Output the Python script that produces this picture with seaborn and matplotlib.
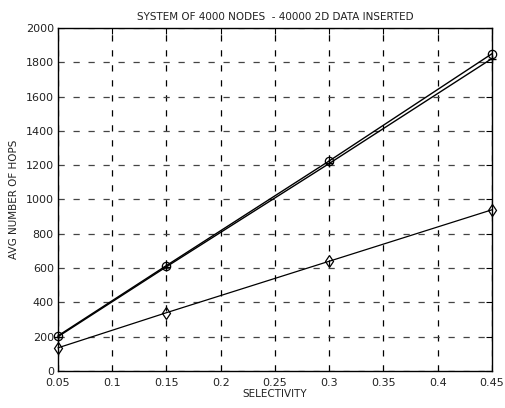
import matplotlib
matplotlib.use("Agg")
import matplotlib.pyplot as plt
import seaborn as sns
import pandas as pd

selectivity = [0.05, 0.15, 0.30, 0.45]
hops_circle = [205, 615, 1225, 1850]
hops_plus = [200, 608, 1210, 1822]
hops_diamond = [135, 340, 640, 940]

x_ticks = [0.05, 0.1, 0.15, 0.2, 0.25, 0.3, 0.35, 0.4, 0.45]
x_tick_labels = ["0.05", "0.1", "0.15", "0.2", "0.25", "0.3", "0.35", "0.4", "0.45"]
y_ticks = [0, 200, 400, 600, 800, 1000, 1200, 1400, 1600, 1800, 2000]

sns.set_theme(style="white")
plt.rcParams["font.family"] = ["DejaVu Sans"]

df = pd.DataFrame({
    "sel": selectivity * 3,
    "hops": hops_circle + hops_plus + hops_diamond,
    "series": ["circle"] * 4 + ["plus"] * 4 + ["diamond"] * 4,
})

fig = plt.figure(figsize=(5.06, 4.08), dpi=100)
ax = fig.add_axes([0.1146, 0.0907, 0.8577, 0.8407])

styles = {
    "circle": dict(marker="o", ms=6, mfc="none", mec="black", mew=0.9, lw=1.0),
    "plus": dict(marker="+", ms=6, mec="black", mew=1.0, lw=1.0),
    "diamond": dict(marker="d", ms=6, mfc="none", mec="black", mew=0.9, lw=0.9),
}
for name, st in styles.items():
    sub = df[df["series"] == name]
    sns.lineplot(data=sub, x="sel", y="hops", ax=ax, color="black",
                 legend=False, clip_on=False, **st)

ax.set_xlim(0.05, 0.45)
ax.set_ylim(0, 2000)
ax.set_xticks(x_ticks)
ax.set_xticklabels(x_tick_labels)
ax.set_yticks(y_ticks)

ax.grid(True, axis="x", color="black", linestyle=(0, (5, 7)), linewidth=0.9)
ax.grid(True, axis="y", color="#444444", linestyle=(0, (5, 7)), linewidth=0.9)

for sp in ax.spines.values():
    sp.set_color("black")
    sp.set_linewidth(1.0)

ax.tick_params(axis="both", direction="in", length=4, width=0.8, colors="black",
               labelsize=8, top=True, right=True)
ax.tick_params(axis="x", pad=5)
ax.tick_params(axis="y", pad=3)
for lab in ax.get_xticklabels() + ax.get_yticklabels():
    lab.set_color("#222222")

ax.set_xlabel("SELECTIVITY", fontsize=7.5, labelpad=1, color="#222222")
ax.set_ylabel("AVG NUMBER OF HOPS", fontsize=7.5, labelpad=5, color="#222222")
ax.set_title("SYSTEM OF 4000 NODES  - 40000 2D DATA INSERTED", fontsize=7.5,
             pad=6, color="#222222")

fig.savefig("out.png", dpi=100, facecolor="white")
